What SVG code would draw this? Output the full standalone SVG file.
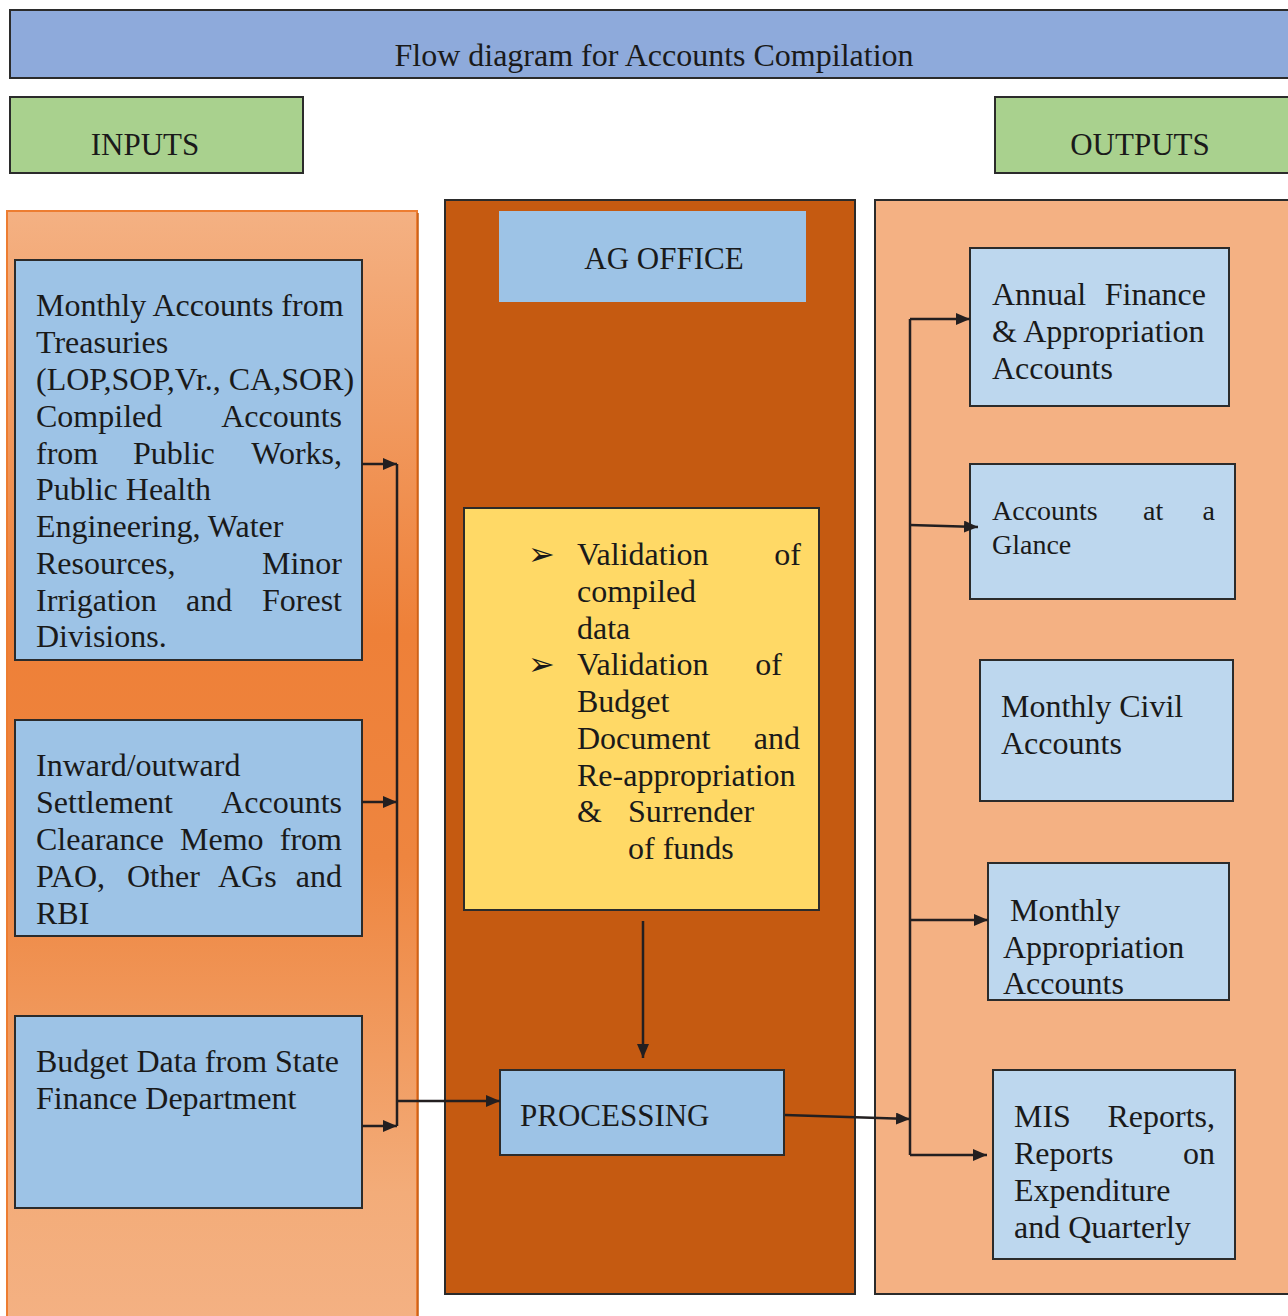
<svg xmlns="http://www.w3.org/2000/svg" width="1288" height="1316" viewBox="0 0 1288 1316">
<defs>
<linearGradient id="lg" x1="0" y1="0" x2="0" y2="1">
<stop offset="0" stop-color="#f4b183"/>
<stop offset="0.38" stop-color="#ee8038"/>
<stop offset="0.58" stop-color="#ee853f"/>
<stop offset="0.88" stop-color="#f3ac79"/>
<stop offset="1" stop-color="#f4b183"/>
</linearGradient>
<marker id="ah" viewBox="0 0 14 12" refX="14" refY="6" markerWidth="14" markerHeight="12" markerUnits="userSpaceOnUse" orient="auto">
<path d="M0,0 L14,6 L0,12 Z" fill="#231f20"/>
</marker>
</defs>
<style>
text{font-family:"Liberation Serif","Times New Roman",serif;font-size:32px;fill:#1a1a1a}
.lb{font-size:31px}
.sm{font-size:28px}
.b{stroke:#2b2b2b;stroke-width:2}
.in{fill:#9dc3e6}
.out{fill:#bdd7ee}
.c{fill:none;stroke:#231f20;stroke-width:2.5}
.ca{fill:none;stroke:#231f20;stroke-width:2.5;marker-end:url(#ah)}
.mid{text-anchor:middle}
.end{text-anchor:end}
.dg{font-family:"DejaVu Sans",sans-serif;font-size:32px}
</style>
<rect width="1288" height="1316" fill="#ffffff"/>

<g id="title">
<rect x="10" y="10" width="1290" height="68" fill="#8eaadb" class="b"/>
<text x="654" y="66" class="mid">Flow diagram for Accounts Compilation</text>
</g>
<g id="inputs-label">
<rect x="10" y="97" width="293" height="76" fill="#a9d18e" class="b"/>
<text x="145" y="155" class="mid lb">INPUTS</text>
</g>
<g id="outputs-label">
<rect x="995" y="97" width="305" height="76" fill="#a9d18e" class="b"/>
<text x="1140" y="155" class="mid lb">OUTPUTS</text>
</g>

<g id="inputs-panel">
<rect x="7" y="211" width="410" height="1115" fill="url(#lg)" stroke="#ed7d31" stroke-width="2"/>
<line x1="418" y1="213" x2="418" y2="1316" stroke="#c55a11" stroke-width="1.5"/>
</g>
<g id="ag-panel">
<rect x="445" y="200" width="410" height="1094" fill="#c55a11" class="b"/>
</g>
<g id="outputs-panel">
<rect x="875" y="200" width="425" height="1094" fill="#f4b183" class="b"/>
</g>

<g id="ag-office">
<rect x="499" y="211" width="307" height="91" fill="#9dc3e6"/>
<text x="664" y="269" class="mid lb">AG OFFICE</text>
</g>

<g id="validation">
<rect x="464" y="508" width="355" height="402" fill="#ffd966" class="b"/>
<text x="528" y="565" class="dg">➢</text>
<text x="577" y="565">Validation</text><text x="801" y="565" class="end">of</text>
<text x="577" y="602">compiled</text>
<text x="577" y="639">data</text>
<text x="528" y="675" class="dg">➢</text>
<text x="577" y="675">Validation</text><text x="782" y="675" class="end">of</text>
<text x="577" y="712">Budget</text>
<text x="577" y="749">Document</text><text x="800" y="749" class="end">and</text>
<text x="577" y="786">Re-appropriation</text>
<text x="577" y="822">&amp;</text><text x="628" y="822">Surrender</text>
<text x="628" y="859">of funds</text>
</g>

<g id="processing">
<rect x="500" y="1070" width="284" height="85" class="in b"/>
<text x="520" y="1126" class="lb">PROCESSING</text>
</g>

<g id="input-1">
<rect x="15" y="260" width="347" height="400" class="in b"/>
<text x="36" y="316">Monthly Accounts from</text>
<text x="36" y="353">Treasuries</text>
<text x="36" y="390">(LOP,SOP,Vr., CA,SOR)</text>
<text x="36" y="427">Compiled</text><text x="342" y="427" class="end">Accounts</text>
<text x="36" y="464">from</text><text x="133" y="464">Public</text><text x="342" y="464" class="end">Works,</text>
<text x="36" y="500">Public Health</text>
<text x="36" y="537">Engineering, Water</text>
<text x="36" y="574">Resources,</text><text x="342" y="574" class="end">Minor</text>
<text x="36" y="611">Irrigation</text><text x="186" y="611">and</text><text x="342" y="611" class="end">Forest</text>
<text x="36" y="647">Divisions.</text>
</g>

<g id="input-2">
<rect x="15" y="720" width="347" height="216" class="in b"/>
<text x="36" y="776">Inward/outward</text>
<text x="36" y="813">Settlement</text><text x="342" y="813" class="end">Accounts</text>
<text x="36" y="850">Clearance</text><text x="180" y="850">Memo</text><text x="342" y="850" class="end">from</text>
<text x="36" y="887">PAO,</text><text x="127" y="887">Other</text><text x="218" y="887">AGs</text><text x="342" y="887" class="end">and</text>
<text x="36" y="924">RBI</text>
</g>

<g id="input-3">
<rect x="15" y="1016" width="347" height="192" class="in b"/>
<text x="36" y="1072">Budget Data from State</text>
<text x="36" y="1109">Finance Department</text>
</g>

<g id="output-1">
<rect x="970" y="248" width="259" height="158" class="out b"/>
<text x="992" y="305">Annual</text><text x="1206" y="305" class="end">Finance</text>
<text x="992" y="342">&amp; Appropriation</text>
<text x="992" y="379">Accounts</text>
</g>
<g id="output-2">
<rect x="970" y="464" width="265" height="135" class="out b"/>
<text x="992" y="520" class="sm">Accounts</text><text x="1143" y="520" class="sm">at</text><text x="1215" y="520" class="sm end">a</text>
<text x="992" y="554" class="sm">Glance</text>
</g>
<g id="output-3">
<rect x="980" y="660" width="253" height="141" class="out b"/>
<text x="1001" y="717">Monthly Civil</text>
<text x="1001" y="754">Accounts</text>
</g>
<g id="output-4">
<rect x="988" y="863" width="241" height="137" class="out b"/>
<text x="1010" y="921">Monthly</text>
<text x="1003" y="958">Appropriation</text>
<text x="1003" y="994">Accounts</text>
</g>
<g id="output-5">
<rect x="993" y="1070" width="242" height="189" class="out b"/>
<text x="1014" y="1127">MIS</text><text x="1215" y="1127" class="end">Reports,</text>
<text x="1014" y="1164">Reports</text><text x="1215" y="1164" class="end">on</text>
<text x="1014" y="1201">Expenditure</text>
<text x="1014" y="1238">and Quarterly</text>
</g>

<g id="connectors">
<line x1="362" y1="464" x2="397" y2="464" class="ca"/>
<line x1="362" y1="802" x2="397" y2="802" class="ca"/>
<line x1="362" y1="1126" x2="397" y2="1126" class="ca"/>
<line x1="397" y1="464" x2="397" y2="1126" class="c"/>
<line x1="397" y1="1101" x2="500" y2="1101" class="ca"/>
<line x1="643" y1="921" x2="643" y2="1058" class="ca"/>
<line x1="785" y1="1115" x2="910" y2="1119" class="ca"/>
<line x1="910" y1="319" x2="910" y2="1155" class="c"/>
<line x1="910" y1="319" x2="970" y2="319" class="ca"/>
<line x1="910" y1="525" x2="978" y2="527" class="ca"/>
<line x1="910" y1="920" x2="988" y2="920" class="ca"/>
<line x1="910" y1="1155" x2="987" y2="1155" class="ca"/>
</g>
</svg>
